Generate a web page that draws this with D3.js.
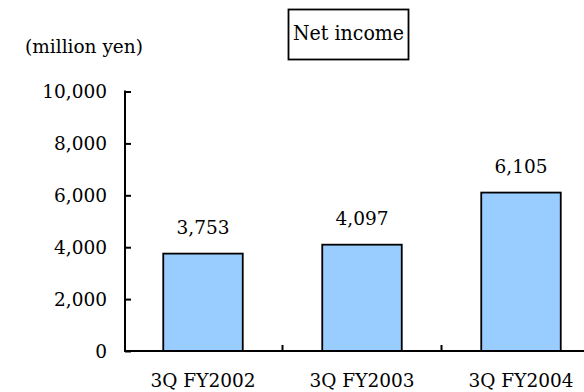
<!DOCTYPE html>
<html>
<head>
<meta charset="utf-8">
<script src="https://cdn.jsdelivr.net/npm/d3@7"></script>
<style>
  html, body { margin: 0; padding: 0; background: #fff; }
  svg { display: block; }
</style>
</head>
<body>
<svg id="chart" width="584" height="392"></svg>
<script>
const categories = ["3Q FY2002", "3Q FY2003", "3Q FY2004"];
const values = [3753, 4097, 6105];
const yTicks = [0, 2000, 4000, 6000, 8000, 10000];
const title = "Net income";
const unitLabel = "(million yen)";

const svg = d3.select("#chart");
const fmt = d3.format(",");
const SX = 1.0;
const FS = 18.5;
const FONT = "'DejaVu Serif', serif";

const axisX = 125;
const x = d3.scaleBand().domain(categories).range([123.5, 600.5])
  .paddingInner(0.5).paddingOuter(0.25);
const y = d3.scaleLinear().domain([0, 10000]).range([351, 91.5]);

function label(g, tx, ty, str, anchor, size, sx) {
  return g.append("text")
    .attr("transform", `translate(${tx},${ty}) scale(${sx},1)`)
    .attr("text-anchor", anchor)
    .style("font-family", FONT)
    .attr("font-size", size)
    .attr("fill", "#000")
    .text(str);
}

svg.append("g").selectAll("rect").data(values).join("rect")
  .attr("x", (d, i) => x(categories[i]))
  .attr("width", x.bandwidth())
  .attr("y", d => y(d))
  .attr("height", d => y(0) - y(d))
  .attr("fill", "#99ccff")
  .attr("stroke", "#000")
  .attr("stroke-width", 1.8);

const yAxis = svg.append("g").attr("transform", `translate(${axisX},0)`)
  .call(d3.axisRight(y).tickValues(yTicks).tickSize(6).tickFormat(""));
yAxis.select(".domain").remove();
yAxis.selectAll(".tick line").attr("stroke", "#000").attr("stroke-width", 2);
yAxis.append("line").attr("x1", 0).attr("x2", 0)
  .attr("y1", y(10000) - 1).attr("y2", y(0) + 1)
  .attr("stroke", "#000").attr("stroke-width", 2);

const yl = svg.append("g");
yTicks.forEach(t => label(yl, 107, y(t) + 6.5, fmt(t), "end", FS, SX));

const step = x.step();
const sepTicks = categories.slice(1).map(c => x(c) - (step - x.bandwidth()) / 2);
const xg = svg.append("g");
xg.append("line").attr("x1", axisX - 1).attr("x2", 584)
  .attr("y1", y(0)).attr("y2", y(0))
  .attr("stroke", "#000").attr("stroke-width", 2);
xg.selectAll("line.sep").data(sepTicks).join("line").attr("class", "sep")
  .attr("x1", d => d).attr("x2", d => d)
  .attr("y1", y(0)).attr("y2", y(0) - 6)
  .attr("stroke", "#000").attr("stroke-width", 2);
categories.forEach(c => label(xg, x(c) + x.bandwidth() / 2, 387, c, "middle", FS, SX));

const vl = svg.append("g");
values.forEach((v, i) => label(vl, x(categories[i]) + x.bandwidth() / 2, y(v) - 20, fmt(v), "middle", FS, SX));

label(svg, 84, 53, unitLabel, "middle", FS, SX);

svg.append("rect").attr("x", 288.5).attr("y", 9.5).attr("width", 120).attr("height", 50)
  .attr("fill", "#fff").attr("stroke", "#000").attr("stroke-width", 1.8);
label(svg, 348.5, 39.5, title, "middle", 20, 0.95);
</script>
</body>
</html>
